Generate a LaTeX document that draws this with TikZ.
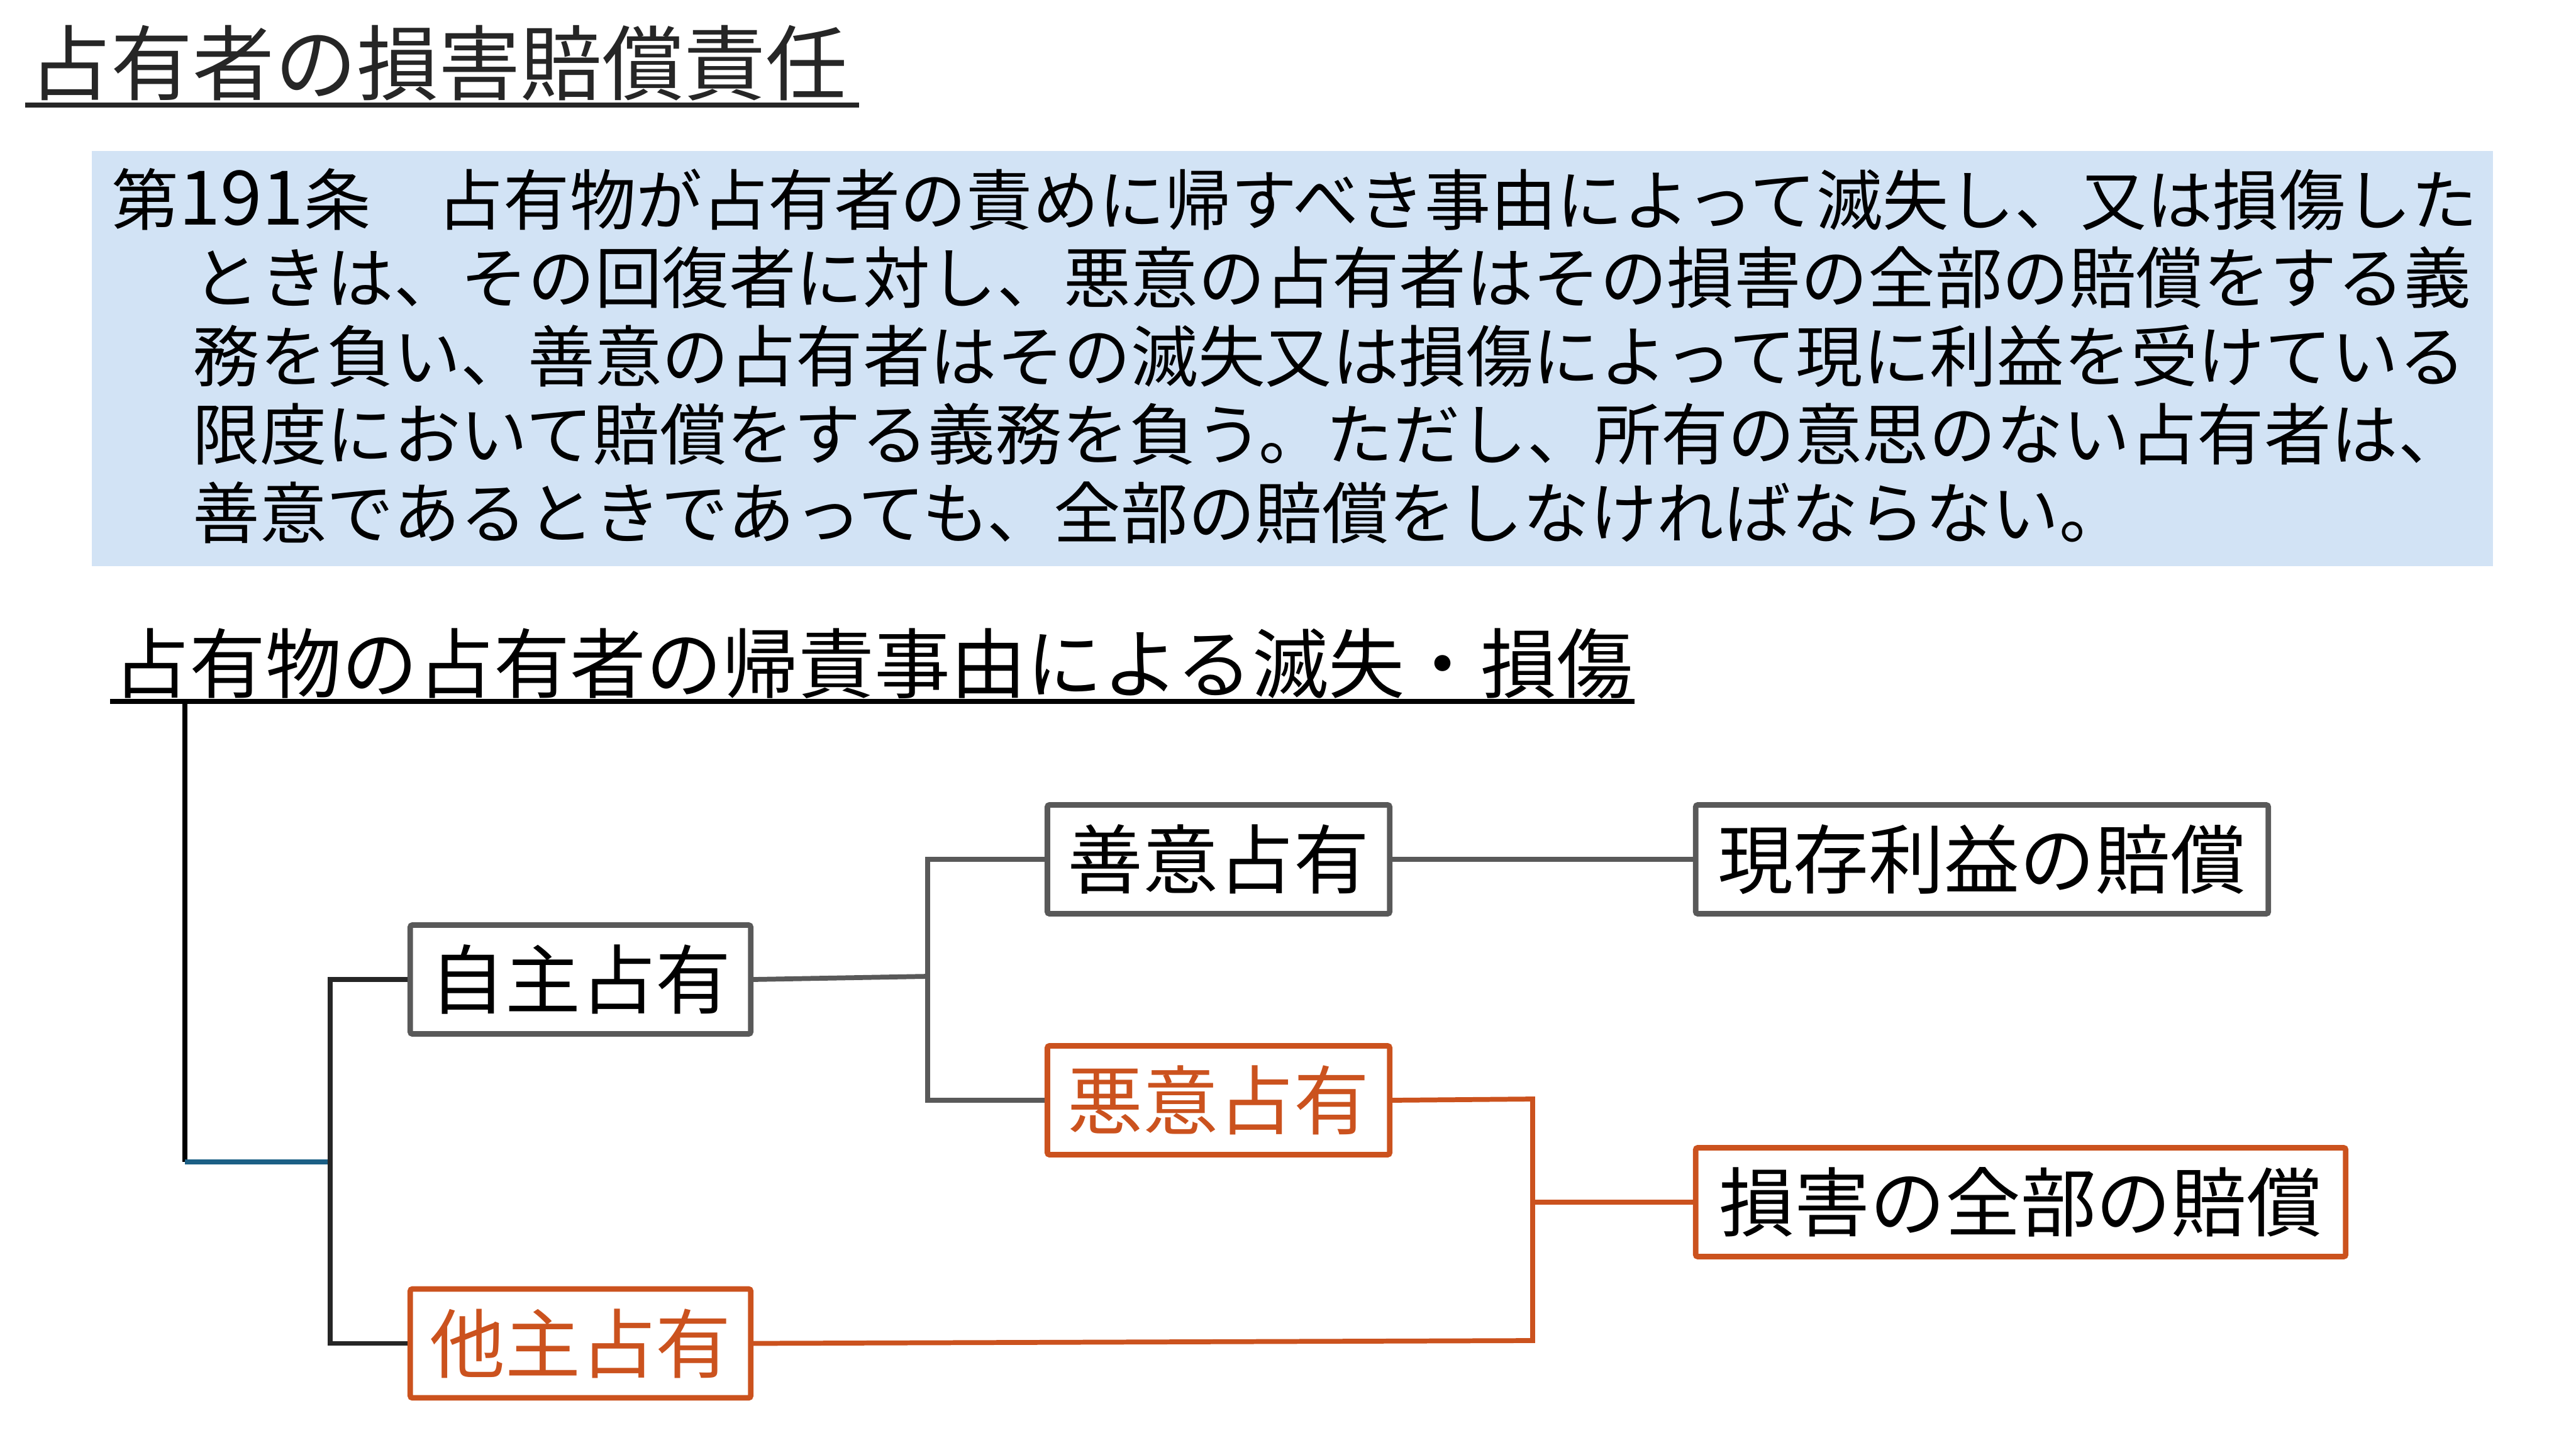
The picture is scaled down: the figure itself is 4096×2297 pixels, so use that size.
\documentclass[tikz,border=0pt]{standalone}
\usepackage{fontspec}
\setmainfont{Noto Sans CJK JP}
\definecolor{grayline}{RGB}{89,89,89}
\definecolor{darkline}{RGB}{38,38,38}
\definecolor{orng}{RGB}{203,82,30}
\definecolor{blueline}{RGB}{27,95,133}
\definecolor{bluefill}{RGB}{210,227,245}
\definecolor{titletext}{RGB}{38,38,38}
\begin{document}
\begin{tikzpicture}[x=0.01cm,y=-0.01cm,
  box/.style={draw=grayline, line width=2.5pt, fill=white, inner sep=0pt,
    rounded corners=1pt, font=\fontsize{34.1pt}{40pt}\selectfont,
    text height=30pt, text depth=4.1pt, minimum height=1.73cm},
  obox/.style={box, draw=orng},
  wire/.style={line width=2.2pt},
  bodytext/.style={anchor=base west, inner sep=0pt, font=\fontsize{30.3pt}{36pt}\selectfont},
]
\useasboundingbox (0,0) rectangle (4096,2297);

% title
\node[anchor=base west, inner sep=0pt, text=titletext, font=\fontsize{37pt}{44pt}\selectfont] (title) at (46,150) {占有者の損害賠償責任};
\draw[titletext, line width=2.3pt] (40,167) -- (1366,167);

% article box
\fill[bluefill] (146,240) rectangle (3964,900);
\node[bodytext] (l1a) at (177,357) {第{\fontsize{34pt}{36pt}\selectfont 191}条};
\node[bodytext, font=\fontsize{29.9pt}{36pt}\selectfont] (l1b) at (695,357) {占有物が占有者の責めに帰すべき事由によって滅失し、又は損傷した};
\node[bodytext] (l2) at (306,481.5) {ときは、その回復者に対し、悪意の占有者はその損害の全部の賠償をする義};
\node[bodytext] (l3) at (306,606) {務を負い、善意の占有者はその滅失又は損傷によって現に利益を受けている};
\node[bodytext] (l4) at (306,730.5) {限度において賠償をする義務を負う。ただし、所有の意思のない占有者は、};
\node[bodytext] (l5) at (306,855) {善意であるときであっても、全部の賠償をしなければならない。};

% heading
\node[anchor=base west, inner sep=0pt, font=\fontsize{34.4pt}{41pt}\selectfont] (head) at (180,1100) {占有物の占有者の帰責事由による滅失・損傷};
\draw[line width=2pt] (175,1115) -- (2599,1115);

% boxes
\node[box, minimum width=5.44cm] (zeni) at (1937.5,1366) {善意占有};
\node[box, minimum width=9.10cm] (genzon) at (3151.5,1366) {現存利益の賠償};
\node[box, minimum width=5.41cm] (jiyu) at (923,1557) {自主占有};
\node[obox, text=orng, minimum width=5.44cm] (akui) at (1937.5,1749) {悪意占有};
\node[obox, minimum width=10.33cm] (songai) at (3213,1911) {損害の全部の賠償};
\node[obox, text=orng, minimum width=5.41cm] (tashu) at (923,2135.5) {他主占有};

% junction coordinates
\coordinate (h0) at (294,1115);
\coordinate (j0) at (294,1847);
\coordinate (j1) at (525,1847);
\coordinate (ja) at (525,1557);
\coordinate (jb) at (525,2135.5);
\coordinate (jc) at (1475,1552);
\coordinate (jd) at (1475,1366);
\coordinate (je) at (1475,1749);
\coordinate (jf) at (2437,1747);
\coordinate (jg) at (2437,2131);
\coordinate (jh) at (2437,1911);

% connectors
\draw[wire, black] (h0) -- (j0);
\draw[wire, blueline] (j0) -- (j1);
\draw[wire, darkline] (jiyu.west) -- (ja) -- (jb) -- (tashu.west);
\draw[wire, grayline] (jiyu.east) -- (jc);
\draw[wire, grayline] (zeni.west) -- (jd) -- (je) -- (akui.west);
\draw[wire, grayline] (zeni.east) -- (genzon.west);
\draw[wire, orng] (akui.east) -- (jf) -- (jg) -- (tashu.east);
\draw[wire, orng] (jh) -- (songai.west);
\end{tikzpicture}
\end{document}
